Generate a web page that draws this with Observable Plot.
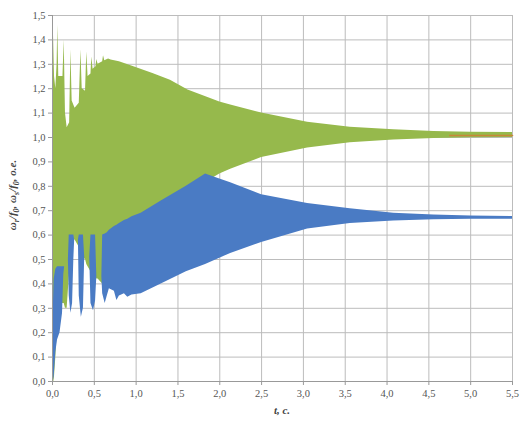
<!DOCTYPE html>
<html>
<head>
<meta charset="utf-8">
<script src="https://cdn.jsdelivr.net/npm/d3@7"></script>
<script src="https://cdn.jsdelivr.net/npm/@observablehq/plot@0.6"></script>
<style>
  html, body { margin: 0; padding: 0; background: #fff; }
</style>
</head>
<body>
<div id="chart"></div>
<script>
// Tick values
const xTicks = [0, 0.5, 1, 1.5, 2, 2.5, 3, 3.5, 4, 4.5, 5, 5.5];
const yTicks = [0, 0.1, 0.2, 0.3, 0.4, 0.5, 0.6, 0.7, 0.8, 0.9, 1.0, 1.1, 1.2, 1.3, 1.4, 1.5];

// Series ωs/f0 (green): envelope of the fast oscillation
const greenT  = [0.000,0.008,0.016,0.024,0.040,0.055,0.063,0.075,0.100,0.125,0.140,0.155,0.175,0.205,0.220,0.235,0.270,0.320,0.340,0.355,0.395,0.410,0.425,0.460,0.470,0.485,0.520,0.530,0.545,0.600,0.610,0.625,0.670,0.700,0.800,0.930,1.200,1.410,1.620,1.850,2.000,2.130,2.500,3.050,3.560,4.080,4.560,5.000,5.500];
const greenLo = [0.00,0.00,0.00,0.02,0.10,0.20,0.25,0.30,0.32,0.32,0.32,0.30,0.30,0.45,0.55,0.58,0.58,0.55,0.52,0.51,0.50,0.48,0.47,0.45,0.44,0.43,0.43,0.42,0.42,0.40,0.40,0.40,0.40,0.42,0.45,0.50,0.60,0.68,0.75,0.82,0.85,0.87,0.918,0.957,0.978,0.990,0.996,0.999,1.000];
const greenHi = [0.00,1.10,1.42,1.25,1.20,1.30,1.46,1.25,1.25,1.25,1.40,1.10,1.04,1.06,1.36,1.15,1.12,1.14,1.36,1.20,1.19,1.35,1.25,1.26,1.33,1.28,1.29,1.32,1.30,1.31,1.335,1.315,1.322,1.318,1.31,1.295,1.262,1.235,1.195,1.165,1.145,1.133,1.10,1.062,1.042,1.032,1.025,1.022,1.020];

// Series ωr/f0 (blue): envelope of the fast oscillation
const blueT  = [0.000,0.010,0.020,0.040,0.060,0.090,0.120,0.135,0.145,0.190,0.200,0.220,0.240,0.255,0.265,0.310,0.320,0.345,0.370,0.385,0.445,0.460,0.490,0.515,0.530,0.590,0.600,0.630,0.655,0.680,0.740,0.770,0.800,0.860,0.900,0.950,1.060,1.300,1.600,1.830,2.000,2.130,2.500,3.050,3.560,4.080,4.560,5.000,5.500];
const blueLo = [0.00,0.00,0.02,0.12,0.17,0.20,0.28,0.44,0.47,0.50,0.35,0.28,0.32,0.50,0.58,0.58,0.35,0.263,0.30,0.51,0.51,0.32,0.29,0.33,0.43,0.43,0.36,0.32,0.35,0.38,0.37,0.332,0.35,0.36,0.345,0.355,0.36,0.40,0.45,0.48,0.505,0.525,0.57,0.625,0.648,0.658,0.663,0.665,0.665];
const blueHi = [0.00,0.30,0.42,0.46,0.47,0.47,0.47,0.47,0.47,0.50,0.60,0.60,0.60,0.60,0.58,0.58,0.60,0.60,0.60,0.51,0.51,0.60,0.60,0.60,0.43,0.43,0.60,0.605,0.61,0.62,0.635,0.64,0.648,0.66,0.665,0.675,0.69,0.74,0.80,0.85,0.83,0.815,0.765,0.73,0.708,0.69,0.682,0.678,0.676];

// Third series (orange), visible only at the far right
const redT = [4.75, 5.5];
const redV = [1.008, 1.008];

const green = greenT.map((t, i) => ({t, lo: greenLo[i], hi: greenHi[i]}));
const blue = blueT.map((t, i) => ({t, lo: blueLo[i], hi: blueHi[i]}));
const red = redT.map((t, i) => ({t, v: redV[i]}));

const fmt = d => d.toFixed(1).replace(".", ",");
const serif = "'Times New Roman', 'Liberation Serif', 'DejaVu Serif', serif";

const chart = Plot.plot({
  width: 528,
  height: 424,
  marginLeft: 52,
  marginRight: 16,
  marginTop: 15,
  marginBottom: 43,
  style: {fontFamily: serif, fontSize: "10.5px", color: "#555", background: "#fff"},
  x: {domain: [0, 5.5]},
  y: {domain: [0, 1.5]},
  marks: [
    Plot.gridX(xTicks, {stroke: "#bcbcbc", strokeOpacity: 1, strokeWidth: 1}),
    Plot.gridY(yTicks, {stroke: "#bcbcbc", strokeOpacity: 1, strokeWidth: 1}),
    Plot.areaY(green, {x: "t", y1: "lo", y2: "hi", fill: "#96b94c", curve: "linear"}),
    Plot.areaY(blue, {x: "t", y1: "lo", y2: "hi", fill: "#4a7bc4", curve: "linear"}),
    Plot.line(red, {x: "t", y: "v", stroke: "#c8873a", strokeWidth: 1.6}),
    Plot.ruleX([0], {stroke: "#999"}),
    Plot.ruleY([0], {stroke: "#999"}),
    Plot.axisX(xTicks, {tickFormat: fmt, tickSize: 4, tickPadding: 4, stroke: "#999", label: null, fontFamily: serif}),
    Plot.axisY(yTicks, {tickFormat: fmt, tickSize: 4, tickPadding: 3, stroke: "#999", label: null, fontFamily: serif})
  ]
});

document.getElementById("chart").appendChild(chart);

// Axis titles with subscripts
const svg = d3.select(chart);
svg.append("text")
  .attr("x", 282).attr("y", 414)
  .attr("text-anchor", "middle")
  .attr("font-family", serif)
  .attr("font-size", 11).attr("font-weight", "bold").attr("font-style", "italic")
  .attr("fill", "#444")
  .text("t, c.");

const yl = svg.append("text")
  .attr("transform", "translate(16,195) rotate(-90)")
  .attr("text-anchor", "middle")
  .attr("font-family", serif)
  .attr("font-size", 11).attr("font-weight", "bold").attr("font-style", "italic")
  .attr("fill", "#444");
const parts = [["ω", 0], ["r", 1], ["/f", 0], ["0", 1], [", ω", 0], ["s", 1], ["/f", 0], ["0", 1], [", о.е.", 0]];
let prevSub = false;
for (const [s, sub] of parts) {
  const ts = yl.append("tspan").text(s);
  if (sub && !prevSub) ts.attr("dy", 3).attr("font-size", 8);
  else if (sub) ts.attr("font-size", 8);
  else if (!sub && prevSub) ts.attr("dy", -3);
  prevSub = !!sub;
}
</script>
</body>
</html>
